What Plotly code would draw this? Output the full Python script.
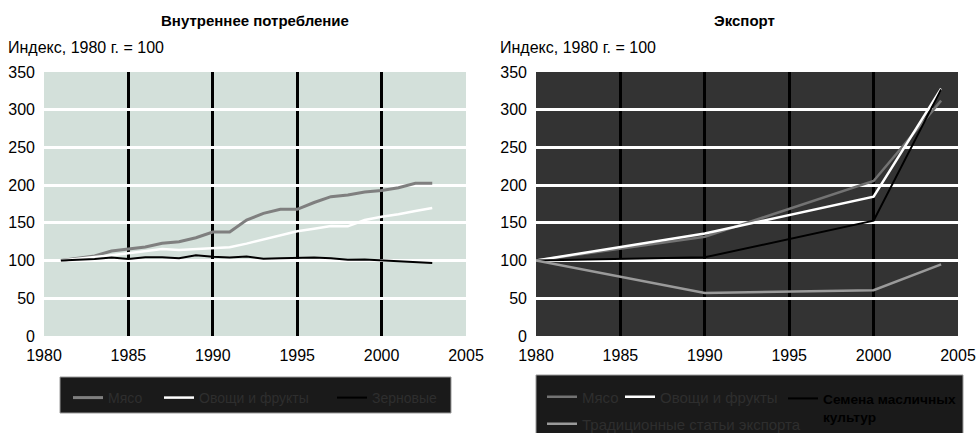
import plotly.graph_objects as go

# ---- Data ----
years_dom = list(range(1981, 2004))
meat_dom = [100, 103, 106, 112.7, 115.8, 118, 122.9, 125, 130.3, 137.9, 137.9, 153.8,
            162.6, 168, 168, 177, 184.7, 187, 191, 193, 196.6, 202.4, 202.4]
vegfruit_dom = [100, 102, 104, 107, 109.6, 112.7, 115.3, 114, 115.3, 115.8, 117.6, 122.5,
                128.2, 133.5, 138.8, 142.3, 145.8, 145.4, 153.8, 158.2, 161.3, 165.7, 169.7]
grain_dom = [100, 101, 102, 104, 102, 104.5, 104.5, 103, 107, 105, 104, 105.3,
             102.5, 103, 103.8, 104, 103, 101, 101.5, 100.3, 99, 97.7, 96.8]

years_exp = [1980, 1990, 2000, 2004]
meat_exp = [100, 131.6, 205.5, 312]
vegfruit_exp = [100, 136, 184.7, 328]
oilseed_exp = [100, 104.3, 152.9, 327]
traditional_exp = [100, 57, 60.6, 95]

x_ticks = [1980, 1985, 1990, 1995, 2000, 2005]
y_ticks = [0, 50, 100, 150, 200, 250, 300, 350]

FONT = "Liberation Sans, Arial, Helvetica, sans-serif"
W, H = 979, 433
LEG_TXT = "#2e2e2e"

fig = go.Figure()

# (x, y, name, color, width, legend id, legend x px, legend y px, font size, axes)
traces = [
    (years_dom, meat_dom, "Мясо", "#7f7f7f", 3, "legend", 68, 398, 14, "x", "y"),
    (years_dom, vegfruit_dom, "Овощи и фрукты", "#ffffff", 2.5, "legend2", 159, 398, 14, "x", "y"),
    (years_dom, grain_dom, "Зерновые", "#000000", 2, "legend3", 332, 398, 14, "x", "y"),
    (years_exp, meat_exp, "Мясо", "#737373", 2.5, "legend4", 542, 397, 15, "x2", "y2"),
    (years_exp, vegfruit_exp, "Овощи и фрукты", "#ffffff", 2.5, "legend5", 620, 397, 15, "x2", "y2"),
    (years_exp, oilseed_exp, "<b><span style='color:#000'>Семена масличных<br>культур</span></b>",
     "#000000", 2, "legend6", 783, 397, 13.7, "x2", "y2"),
    (years_exp, traditional_exp, "Традиционные статьи экспорта", "#9a9a9a", 2.5, "legend7", 542, 424, 15,
     "x2", "y2"),
]

legends = {}
for xs, ys, name, color, lw, leg, lx, ly, fs, xa, ya in traces:
    fig.add_trace(go.Scatter(x=xs, y=ys, mode="lines", name=name,
                             line=dict(color=color, width=lw), legend=leg,
                             xaxis=xa, yaxis=ya, showlegend=True))
    multi = "<br>" in name
    legends[leg] = dict(
        xref="container", yref="container",
        x=lx / W, y=1 - (ly - 14) / H if multi else 1 - ly / H,
        xanchor="left", yanchor="top" if multi else "middle",
        valign="top" if multi else "middle",
        bgcolor="rgba(0,0,0,0)", borderwidth=0, orientation="h",
        font=dict(size=fs, color=LEG_TXT, family=FONT),
        itemwidth=30, tracegroupgap=0, visible=True,
    )

ydom = [1 - 336 / H, 1 - 72 / H]
axis_common_x = dict(range=[1980, 2005], tickvals=x_ticks, showgrid=True,
                     gridcolor="#000000", gridwidth=3, zeroline=False, showline=False,
                     ticks="", ticklabelstandoff=8,
                     tickfont=dict(size=16, color="#000", family=FONT))
axis_common_y = dict(range=[0, 350], tickvals=y_ticks, showgrid=True,
                     gridcolor="#ffffff", gridwidth=2.5, zeroline=False, showline=False,
                     ticks="", ticklabelstandoff=8,
                     tickfont=dict(size=16, color="#000", family=FONT),
                     domain=ydom)

fig.update_layout(
    width=W, height=H,
    showlegend=True,
    margin=dict(l=0, r=0, t=0, b=0, autoexpand=False),
    paper_bgcolor="#ffffff",
    plot_bgcolor="#d3e0da",
    font=dict(family=FONT, size=16, color="#000"),
    xaxis=dict(domain=[44 / W, 466 / W], anchor="y", **axis_common_x),
    yaxis=dict(anchor="x", **axis_common_y),
    xaxis2=dict(domain=[536 / W, 958 / W], anchor="y2", **axis_common_x),
    yaxis2=dict(anchor="x2", **axis_common_y),
    shapes=[
        dict(type="rect", xref="x2 domain", yref="y2 domain", x0=0, x1=1, y0=0, y1=1,
             fillcolor="#333333", line=dict(width=0), layer="below"),
        dict(type="rect", xref="paper", yref="paper", x0=60 / W, x1=451 / W,
             y0=1 - 413 / H, y1=1 - 377 / H, fillcolor="#1a1a1a",
             line=dict(color="#9a9a9a", width=1), layer="above"),
        dict(type="rect", xref="paper", yref="paper", x0=536 / W, x1=963 / W,
             y0=-0.05, y1=1 - 375 / H, fillcolor="#1a1a1a",
             line=dict(color="#9a9a9a", width=1), layer="above"),
    ],
    annotations=[
        dict(text="<b>Внутреннее потребление</b>", x=255 / W, y=1 - 21 / H, xref="paper", yref="paper",
             xanchor="center", yanchor="middle", showarrow=False, font=dict(size=15, family=FONT)),
        dict(text="<b>Экспорт</b>", x=744 / W, y=1 - 21 / H, xref="paper", yref="paper",
             xanchor="center", yanchor="middle", showarrow=False, font=dict(size=15, family=FONT)),
        dict(text="Индекс, 1980 г. = 100", x=6 / W, y=1 - 48 / H, xref="paper", yref="paper",
             xanchor="left", yanchor="middle", showarrow=False, font=dict(size=16, family=FONT)),
        dict(text="Индекс, 1980 г. = 100", x=498 / W, y=1 - 48 / H, xref="paper", yref="paper",
             xanchor="left", yanchor="middle", showarrow=False, font=dict(size=16, family=FONT)),
    ],
    **legends,
)

fig.write_html("out.html", config={"displayModeBar": False},
               post_script="document.body.style.margin='0';document.body.style.overflow='hidden';")
